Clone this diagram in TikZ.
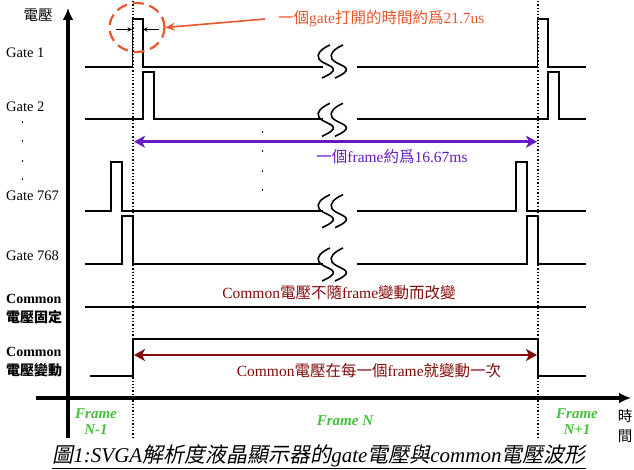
\documentclass[tikz,border=0pt]{standalone}
\usepackage{fontspec}
\setmainfont{Liberation Serif}
\newfontfamily\cjk{Noto Sans CJK TC}
\newfontfamily\cjkit{Noto Sans CJK TC}[FakeSlant=0.2]
\usetikzlibrary{arrows,arrows.meta,shapes.geometric}
\definecolor{annorange}{RGB}{235,85,40}
\definecolor{framepurple}{RGB}{105,25,195}
\definecolor{comred}{RGB}{130,10,10}
\definecolor{framegreen}{RGB}{70,190,60}

\begin{document}
\begin{tikzpicture}[x=1pt,y=-1pt,>=stealth,
  every node/.style={font=\fontsize{14.5}{16}\selectfont,inner sep=0pt},
  wave/.style={line width=1.7pt},
  axis/.style={line width=3.2pt,-{Latex[length=12pt,width=11pt]}},
  mark line/.style={dotted,line width=1.3pt},
  period/.style={{Stealth[length=11pt,width=12pt,inset=3pt]}-{Stealth[length=11pt,width=12pt,inset=3pt]}},
  lbl/.style={anchor=west},
  blbl/.style={anchor=west,font=\fontsize{14}{16}\selectfont\bfseries},
  ann/.style={font=\fontsize{15.5}{17}\selectfont},
  frm/.style={font=\fontsize{15}{16}\selectfont\bfseries\itshape,
    text=framegreen,align=center}]
 \useasboundingbox (0,0) rectangle (634,470);
 % axes and frame borders
 \coordinate (yo) at (68,438);
 \coordinate (yt) at (68,8);
 \coordinate (xo) at (36,398);
 \coordinate (xt) at (631,398);
 \draw[axis] (yo)--(yt);
 \draw[axis] (xo)--(xt);
 \draw[mark line] (133,1)--(133,438);
 \draw[mark line] (538,1)--(538,438);
 \node (volt) at (38,15) {\cjk 電壓};
 \node (ti) at (625,416) {\cjk 時};
 \node (jian) at (625,436) {\cjk 間};
 % row labels
 \node[lbl] (g1) at (6,53) {Gate 1};
 \node[lbl] (g2) at (6,107) {Gate 2};
 \node[lbl] (g767) at (6,196) {Gate 767};
 \node[lbl] (g768) at (6,256) {Gate 768};
 \node[blbl] (cfix) at (6,299) {Common};
 \node[blbl] (cfixb) at (6,317) {\cjk\bfseries 電壓固定};
 \node[blbl] (cvar) at (6,352) {Common};
 \node[blbl] (cvarb) at (6,370) {\cjk\bfseries 電壓變動};
 \foreach \y in {122,141,161,179} \fill (22.5,\y) circle (0.8);
 \foreach \y in {132,151,171,190} \fill (262.5,\y) circle (0.8);
 % gate waveforms
 \draw[wave] (85,66.7)--(132.5,66.7)--(132.5,19)--(143,19)--(143,66.7)--(323,66.7);
 \draw[wave] (357,66.7)--(537.5,66.7)--(537.5,19)--(548,19)--(548,66.7)--(586,66.7);
 \draw[wave] (85,119.3)--(143,119.3)--(143,71.7)--(154,71.7)--(154,119.3)--(323,119.3);
 \draw[wave] (357,119.3)--(548,119.3)--(548,71.7)--(559,71.7)--(559,119.3)--(586,119.3);
 \draw[wave] (85,210.7)--(111,210.7)--(111,162.3)--(122,162.3)--(122,210.7)--(323,210.7);
 \draw[wave] (357,210.7)--(516,210.7)--(516,162.3)--(527,162.3)--(527,210.7)--(586,210.7);
 \draw[wave] (85,264)--(122,264)--(122,216)--(133,216)--(133,264)--(323,264);
 \draw[wave] (357,264)--(527,264)--(527,216)--(538,216)--(538,264)--(586,264);
 \foreach \y in {61,119.3,210.7,264}
  \foreach \x in {317,330}
   \draw[line width=1.6pt] ({\x+13},{\y-16}) .. controls ({\x+4},{\y-12}) and ({\x-1},{\y-7}) .. ({\x+2},{\y-2})
     .. controls ({\x+5},{\y+3}) and ({\x+19},{\y+5}) .. ({\x+16},{\y+10})
     .. controls ({\x+14},{\y+13}) and ({\x+9},{\y+15}) .. ({\x+5},{\y+17});
 % common waveforms
 \draw[wave] (85,306.7)--(586,306.7);
 \draw[wave] (90,376)--(133,376)--(133,339)--(538,339)--(538,376)--(586,376);
 % gate width note
 \node[draw=annorange,dash pattern=on 11pt off 6pt,line width=2.2pt,ellipse,
   minimum width=55pt,minimum height=49pt] (circ) at (137,27.5) {};
 \node[ann,anchor=west,text=annorange] (gatetxt) at (278,19)
   {{\cjk 一個}gate{\cjk 打開的時間約爲}21.7us};
 \draw[-{Stealth[length=9pt,width=8pt]},annorange,line width=1.6pt] ([xshift=-13pt]gatetxt.west)--(circ.east);
 \coordinate (wl) at (116,29.5);
 \coordinate (wr) at (159,29.5);
 \draw[->,line width=1pt] (wl)--(132,29.5);
 \draw[->,line width=1pt] (wr)--(143,29.5);
 % frame period
 \coordinate (fa) at (134,141.7);
 \coordinate (fb) at (537,141.7);
 \draw[period,framepurple,line width=2.6pt] (fa)--(fb);
 \node[ann,text=framepurple] (frametxt) at (392,157)
   {{\cjk 一個}frame{\cjk 約爲}16.67ms};
 \node[ann,text=comred] (fixtxt) at (339,293)
   {Common{\cjk 電壓不隨}frame{\cjk 變動而改變}};
 \coordinate (ca) at (134,355);
 \coordinate (cb) at (537,355);
 \draw[period,comred,line width=2.4pt] (ca)--(cb);
 \node[ann,text=comred] (vartxt) at (369,371)
   {Common{\cjk 電壓在每一個}frame{\cjk 就變動一次}};
 % frame names
 \node[frm] (fprev) at (96,421.5) {Frame\\N-1};
 \node[frm] (fcur) at (345,421) {Frame N};
 \node[frm] (fnext) at (577,421.5) {Frame\\N+1};
 \node[font=\fontsize{21}{23}\selectfont\itshape] (cap) at (319,457)
   {\underline{{\cjkit 圖}1:SVGA{\cjkit 解析度液晶顯示器的}gate{\cjkit 電壓與}common{\cjkit 電壓波形}}};
\end{tikzpicture}
\end{document}
